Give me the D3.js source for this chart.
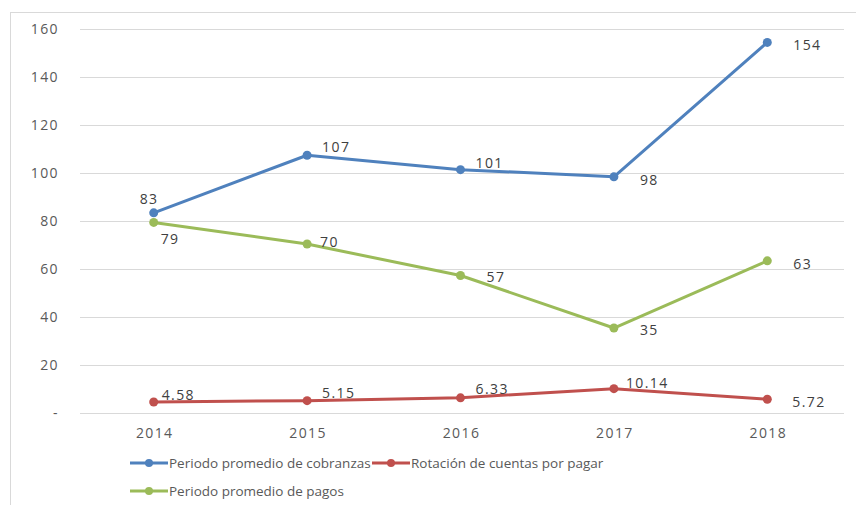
<!DOCTYPE html>
<head>
    <meta charset="utf-8">
    <script src="https://d3js.org/d3.v7.min.js"></script>
    <style>
        body { margin: 0; background: #fff; }
        svg { display: block; font-family: "Open Sans", Arial, sans-serif; }
        .tick-label, .val-label { font-size: 14px; fill: #404040; letter-spacing: 1.4px; }
        .tick-label { fill: #595959; }
        .legend text { font-size: 13.5px; fill: #595959; letter-spacing: 0px; }
        .grid line { stroke: #d9d9d9; stroke-width: 1; }
    </style>
</head>
<body>
<svg id="svg" width="856" height="505"></svg>
<script>
// chart data
var years = ["2014", "2015", "2016", "2017", "2018"];
var cobranzas = [83.4, 107.4, 101.4, 98.4, 154.4];
var rotacion = [4.58, 5.15, 6.33, 10.14, 5.72];
var pagos = [79.4, 70.4, 57.3, 35.4, 63.4];
var yTicks = [0, 20, 40, 60, 80, 100, 120, 140, 160];

var series = [
    { name: "Periodo promedio de cobranzas", values: cobranzas, color: "#4f81bd", fmt: d3.format(".0f") },
    { name: "Rotación de cuentas por pagar", values: rotacion, color: "#c0504d", fmt: d3.format(".2f") },
    { name: "Periodo promedio de pagos", values: pagos, color: "#9bbb59", fmt: d3.format(".0f") }
];

// label placement (dx from point to label start, dy to label middle)
var labelOffsets = [
    [[-14, -14], [15, -8], [15, -7], [26, 3], [26, 3]],
    [[8, -7], [15, -8], [15, -9], [12, -6], [25, 3]],
    [[7, 17], [13, -2], [26, 2], [26, 2], [26, 3]]
];

var svg = d3.select("#svg");

// outer chart border
svg.append("rect")
    .attr("x", 10.5).attr("y", 12.5)
    .attr("width", 900).attr("height", 600)
    .attr("fill", "none").attr("stroke", "#d9d9d9");

var x = d3.scalePoint().domain(years).range([77, 844]).padding(0.5);
var y = d3.scaleLinear().domain([0, 160]).range([413, 29]);

var grid = svg.append("g").attr("class", "grid");
grid.selectAll("line").data(yTicks).enter().append("line")
    .attr("x1", 80).attr("x2", 844)
    .attr("y1", function (d) { return Math.round(y(d)) + 0.5; })
    .attr("y2", function (d) { return Math.round(y(d)) + 0.5; });

svg.append("g").selectAll("text").data(yTicks).enter().append("text")
    .attr("class", "tick-label")
    .attr("x", 59)
    .attr("y", function (d) { return y(d); })
    .attr("dy", "0.35em")
    .attr("text-anchor", "end")
    .text(function (d) { return d === 0 ? "-" : d; });

svg.append("g").selectAll("text").data(years).enter().append("text")
    .attr("class", "tick-label")
    .attr("x", function (d) { return x(d) + 1; })
    .attr("y", 433)
    .attr("dy", "0.35em")
    .attr("text-anchor", "middle")
    .text(function (d) { return d; });

var line = d3.line()
    .x(function (d, i) { return x(years[i]); })
    .y(function (d) { return y(d); });

series.forEach(function (s, si) {
    var g = svg.append("g");
    g.append("path")
        .attr("d", line(s.values))
        .attr("fill", "none")
        .attr("stroke", s.color)
        .attr("stroke-width", 3)
        .attr("stroke-linejoin", "round");
    g.selectAll("circle").data(s.values).enter().append("circle")
        .attr("cx", function (d, i) { return x(years[i]); })
        .attr("cy", function (d) { return y(d); })
        .attr("r", 4.5)
        .attr("fill", s.color);
    g.selectAll("text").data(s.values).enter().append("text")
        .attr("class", "val-label")
        .attr("x", function (d, i) { return x(years[i]) + labelOffsets[si][i][0]; })
        .attr("y", function (d, i) { return y(d) + labelOffsets[si][i][1]; })
        .attr("dy", "0.35em")
        .text(function (d) { return s.fmt(d); });
});

// legend
var legendPos = [[130, 463], [372, 463], [130, 491]];
var legend = svg.append("g").attr("class", "legend");
series.forEach(function (s, i) {
    var g = legend.append("g")
        .attr("transform", "translate(" + legendPos[i][0] + "," + legendPos[i][1] + ")");
    g.append("line").attr("x1", 0).attr("x2", 38)
        .attr("stroke", s.color).attr("stroke-width", 3);
    g.append("circle").attr("cx", 19).attr("r", 4).attr("fill", s.color);
    g.append("text").attr("x", 39).attr("dy", "0.35em").text(s.name);
});
</script>
</body>
